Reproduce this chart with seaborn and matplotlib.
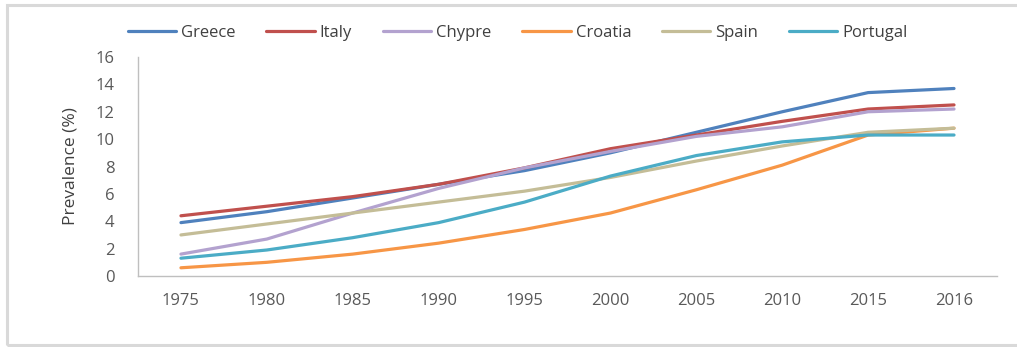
import pandas as pd
import numpy as np
import matplotlib
matplotlib.use("Agg")
import matplotlib.pyplot as plt
import seaborn as sns
from matplotlib.patches import Rectangle

# data
years = ['1975', '1980', '1985', '1990', '1995', '2000', '2005', '2010', '2015', '2016']
greece = [3.9, 4.7, 5.7, 6.7, 7.7, 9.0, 10.5, 12.0, 13.4, 13.7]
italy = [4.4, 5.1, 5.8, 6.7, 7.9, 9.3, 10.3, 11.3, 12.2, 12.5]
chypre = [1.6, 2.7, 4.6, 6.4, 7.9, 9.1, 10.2, 10.9, 12.0, 12.2]
croatia = [0.6, 1.0, 1.6, 2.4, 3.4, 4.6, 6.3, 8.1, 10.3, 10.8]
spain = [3.0, 3.8, 4.6, 5.4, 6.2, 7.2, 8.4, 9.5, 10.5, 10.8]
portugal = [1.3, 1.9, 2.8, 3.9, 5.4, 7.3, 8.8, 9.8, 10.3, 10.3]

countries = ['Greece', 'Italy', 'Chypre', 'Croatia', 'Spain', 'Portugal']
colors = ['#4F81BD', '#C0504D', '#B3A2CF', '#F79646', '#C4BD97', '#4BACC6']

series = [greece, italy, chypre, croatia, spain, portugal]
df = pd.concat([
    pd.DataFrame({'year': years, 'value': vals, 'country': name})
    for name, vals in zip(countries, series)
])

sns.set_style("white")
plt.rcParams['font.family'] = ['Open Sans', 'DejaVu Sans']

fig = plt.figure(figsize=(10.17, 3.47), dpi=100)
ax = fig.add_axes([0.1357, 0.2046, 0.8446, 0.6311])

sns.lineplot(data=df, x='year', y='value', hue='country', hue_order=countries,
             palette=colors, linewidth=2.3, sort=False, ax=ax, legend=False)

ax.set_xlim(-0.5, 9.5)
ax.set_ylim(0, 16)
ax.set_yticks(np.arange(0, 17, 2))
ax.set_xlabel('')
ax.set_ylabel('Prevalence (%)', fontsize=12.5, color='#404040', labelpad=12)
ax.tick_params(axis='both', length=0, labelsize=12, colors='#595959')
ax.tick_params(axis='y', pad=17)
ax.tick_params(axis='x', pad=12)

for side in ['top', 'right']:
    ax.spines[side].set_visible(False)
for side in ['left', 'bottom']:
    ax.spines[side].set_color('#BFBFBF')
    ax.spines[side].set_linewidth(1.0)

handles = [plt.Line2D([], [], color=c, linewidth=2.3) for c in colors]
fig.legend(handles, countries, loc='center', bbox_to_anchor=(0.509, 0.905),
           ncol=6, frameon=False, fontsize=12, handlelength=2.9,
           handletextpad=0.3, columnspacing=1.85, labelcolor='#404040')

# outer chart frame
fig.patches.append(Rectangle((7 / 1017, 2 / 347), 1.0, 1 - 7 / 347,
                             transform=fig.transFigure, fill=False,
                             edgecolor='#D9D9D9', linewidth=2.2))

plt.savefig('out.png', dpi=100)
